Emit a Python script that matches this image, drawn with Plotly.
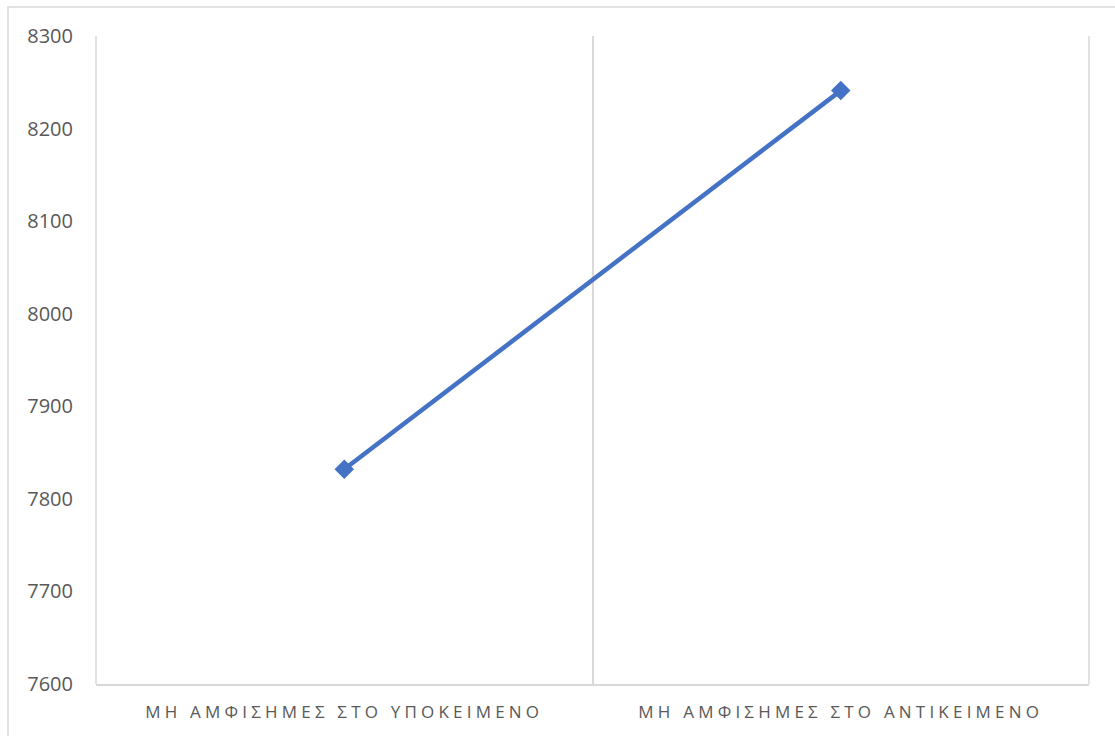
import plotly.graph_objects as go

categories = ["ΜΗ ΑΜΦΙΣΗΜΕΣ ΣΤΟ ΥΠΟΚΕΙΜΕΝΟ", "ΜΗ ΑΜΦΙΣΗΜΕΣ ΣΤΟ ΑΝΤΙΚΕΙΜΕΝΟ"]
values = [7832, 8241]
y_ticks = [7600, 7700, 7800, 7900, 8000, 8100, 8200, 8300]

W, H = 1115, 736
L, R, T, B = 96, 1089, 36, 684

fig = go.Figure()
fig.add_trace(go.Scatter(
    x=categories, y=values, mode="lines+markers",
    line=dict(color="#4472C4", width=4.5),
    marker=dict(symbol="diamond", size=15, color="#4472C4"),
    showlegend=False, hoverinfo="x+y",
))

pw, ph = R - L, B - T
# outer chart border
fig.add_shape(type="rect", xref="paper", yref="paper",
              x0=(8 - L) / pw, x1=(W + 10 - L) / pw,
              y0=(B - (H + 10)) / ph, y1=(B - 7) / ph,
              line=dict(color="#d9d9d9", width=1.5), layer="below")
# edge gridlines at category boundaries
for xe in (0, 1):
    fig.add_shape(type="line", xref="paper", yref="paper",
                  x0=xe, x1=xe, y0=0, y1=1,
                  line=dict(color="#d9d9d9", width=1.5), layer="below")

fig.update_layout(
    width=W, height=H,
    margin=dict(l=L, r=W - R, t=T, b=H - B),
    paper_bgcolor="white", plot_bgcolor="white",
    font=dict(family="Open Sans, Noto Sans, sans-serif", color="#595959"),
    xaxis=dict(
        type="category", tickson="boundaries", range=[-0.5, 1.5],
        showgrid=True, gridcolor="#d9d9d9", gridwidth=1.5,
        showline=True, linecolor="#d9d9d9", linewidth=1.5,
        ticks="", tickfont=dict(size=17, color="#595959"),
        tickvals=categories,
        ticktext=['<span style="letter-spacing:4.2px">' + c + '</span>' for c in categories],
        ticklabelstandoff=12, zeroline=False,
    ),
    yaxis=dict(
        range=[7600, 8300], tickvals=y_ticks,
        showgrid=False, showline=False, zeroline=False,
        ticks="", tickfont=dict(size=20, color="#595959"),
        ticklabelstandoff=22,
    ),
)

fig.write_html("out.html")
